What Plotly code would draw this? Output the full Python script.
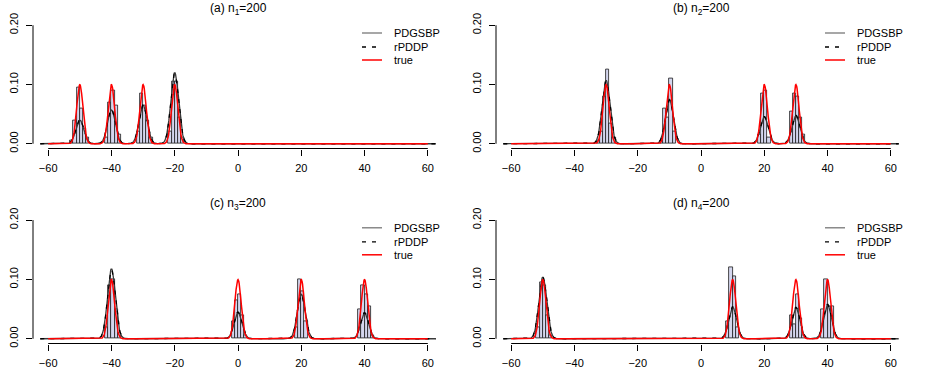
import numpy as np
import plotly.graph_objects as go

# ---------------- data ----------------
panel_titles = ["(a) n<sub>1</sub>=200", "(b) n<sub>2</sub>=200",
                "(c) n<sub>3</sub>=200", "(d) n<sub>4</sub>=200"]
x_tick_vals = [-60, -40, -20, 0, 20, 40, 60]
y_tick_vals = [0.0, 0.1, 0.2]
y_tick_text = ["0.00", "0.10", "0.20"]
legend_labels = ["PDGSBP", "rPDDP", "true"]

# histogram bins (left edge, width 1) and densities
hist_a_left = [-53, -52, -51, -50, -49, -48, -42, -41, -40, -39, -38,
               -32, -31, -30, -29, -28, -22, -21, -20, -19, -18]
hist_a_dens = [0.005, 0.04, 0.095, 0.06, 0.025, 0.01, 0.01, 0.07, 0.09, 0.065, 0.015,
               0.02, 0.085, 0.065, 0.04, 0.01, 0.02, 0.105, 0.105, 0.045, 0.01]
hist_b_left = [-33, -32, -31, -30, -29, -28, -13, -12, -11, -10, -9,
               18, 19, 20, 21, 28, 29, 30, 31, 32]
hist_b_dens = [0.005, 0.02, 0.08, 0.125, 0.035, 0.01, 0.005, 0.06, 0.045, 0.11, 0.02,
               0.015, 0.085, 0.09, 0.01, 0.055, 0.085, 0.08, 0.045, 0.015]
hist_c_left = [-42, -41, -40, -39, -38, -2, -1, 0, 1, 2,
               18, 19, 20, 21, 38, 39, 40, 41, 42]
hist_c_dens = [0.02, 0.09, 0.1, 0.05, 0.01, 0.03, 0.065, 0.075, 0.04, 0.005,
               0.02, 0.1, 0.08, 0.03, 0.05, 0.09, 0.075, 0.055, 0.005]
hist_d_left = [-52, -51, -50, -49, -48, 8, 9, 10, 11,
               28, 29, 30, 31, 32, 38, 39, 40, 41]
hist_d_dens = [0.02, 0.095, 0.09, 0.04, 0.005, 0.03, 0.12, 0.105, 0.02,
               0.04, 0.025, 0.075, 0.035, 0.005, 0.05, 0.1, 0.055, 0.055]

# true mixture components (equal weights, unit sd)
true_means_a = [-50, -40, -30, -20]
true_means_b = [-30, -10, 20, 30]
true_means_c = [-40, 0, 20, 40]
true_means_d = [-50, 10, 30, 40]
true_weight = 0.25
true_sd = 1.0

# fitted curves: component peak heights (means as true), common sd
pdgsbp_peaks_a = [0.040, 0.057, 0.065, 0.120]
pdgsbp_peaks_b = [0.107, 0.075, 0.045, 0.047]
pdgsbp_peaks_c = [0.118, 0.044, 0.075, 0.043]
pdgsbp_peaks_d = [0.104, 0.053, 0.052, 0.057]
rpddp_peaks_a = [0.041, 0.058, 0.066, 0.118]
rpddp_peaks_b = [0.105, 0.074, 0.046, 0.048]
rpddp_peaks_c = [0.116, 0.045, 0.074, 0.044]
rpddp_peaks_d = [0.103, 0.054, 0.053, 0.058]
fit_sd = 1.25

panels = [
    dict(title=panel_titles[0], hl=hist_a_left, hd=hist_a_dens, tm=true_means_a, pp=pdgsbp_peaks_a, rp=rpddp_peaks_a),
    dict(title=panel_titles[1], hl=hist_b_left, hd=hist_b_dens, tm=true_means_b, pp=pdgsbp_peaks_b, rp=rpddp_peaks_b),
    dict(title=panel_titles[2], hl=hist_c_left, hd=hist_c_dens, tm=true_means_c, pp=pdgsbp_peaks_c, rp=rpddp_peaks_c),
    dict(title=panel_titles[3], hl=hist_d_left, hd=hist_d_dens, tm=true_means_d, pp=pdgsbp_peaks_d, rp=rpddp_peaks_d),
]

# ---------------- layout geometry ----------------
W, H = 926, 390
FONT = "Liberation Sans, Arial, Helvetica, sans-serif"
xdom = [(33, 443), (496, 906), (33, 443), (496, 906)]
ydom = [(20.5, 148.5), (20.5, 148.5), (215.3, 343.5), (215.3, 343.5)]
title_y = [9, 9, 204, 204]

grid_fit = np.linspace(-62.5, 62.5, 1001)
grid_true = np.linspace(-60, 60, 1001)


def mix_true(x, means):
    out = np.zeros_like(x)
    for m in means:
        out += true_weight * np.exp(-0.5 * ((x - m) / true_sd) ** 2) / (true_sd * np.sqrt(2 * np.pi))
    return out


def mix_peak(x, means, peaks):
    out = np.zeros_like(x)
    for m, p in zip(means, peaks):
        out += p * np.exp(-0.5 * ((x - m) / fit_sd) ** 2)
    return out


DASH = "4px,6px"
fig = go.Figure()
shapes = []
annotations = []
layout_axes = {}

for i, p in enumerate(panels):
    k = "" if i == 0 else str(i + 1)
    xa, ya = "x" + k, "y" + k
    centers = [l + 0.5 for l in p["hl"]]
    fig.add_trace(go.Bar(x=centers, y=p["hd"], width=1.0, xaxis=xa, yaxis=ya,
                         marker=dict(color="#D4D6EE", line=dict(color="#1a1a1a", width=0.8)),
                         showlegend=False, hoverinfo="skip"))
    fig.add_trace(go.Scatter(x=grid_fit, y=mix_peak(grid_fit, p["tm"], p["pp"]), mode="lines",
                             line=dict(color="#3a3a3a", width=1.3), xaxis=xa, yaxis=ya,
                             showlegend=False, hoverinfo="skip"))
    fig.add_trace(go.Scatter(x=grid_fit, y=mix_peak(grid_fit, p["tm"], p["rp"]), mode="lines",
                             line=dict(color="black", width=1.3, dash=DASH), xaxis=xa, yaxis=ya,
                             showlegend=False, hoverinfo="skip"))
    fig.add_trace(go.Scatter(x=grid_true, y=mix_true(grid_true, p["tm"]), mode="lines",
                             line=dict(color="#FF0000", width=1.5), xaxis=xa, yaxis=ya,
                             showlegend=False, hoverinfo="skip"))

    x0, x1 = xdom[i]
    yt, yb = ydom[i]
    xname = "xaxis" + k
    yname = "yaxis" + k
    layout_axes[xname] = dict(domain=[x0 / W, x1 / W], range=[-64.8, 64.8], anchor=ya,
                              automargin=False, showgrid=False, zeroline=False, showline=False,
                              ticks="outside", ticklen=6, tickwidth=1, tickcolor="black",
                              tickvals=x_tick_vals, ticklabelstandoff=3,
                              tickfont=dict(family=FONT, size=11, color="black"))
    layout_axes[yname] = dict(domain=[1 - yb / H, 1 - yt / H], range=[-0.008, 0.208], anchor=xa,
                              automargin=False, showgrid=False, zeroline=False, showline=False,
                              ticks="outside", ticklen=6, tickwidth=1, tickcolor="black",
                              tickvals=y_tick_vals, ticktext=y_tick_text, tickangle=-90,
                              ticklabelstandoff=4,
                              tickfont=dict(family=FONT, size=11, color="black"))
    # R-style axis lines spanning first to last tick
    shapes.append(dict(type="line", xref=xa, yref=ya + " domain", x0=-60, x1=60, y0=0, y1=0,
                       line=dict(color="black", width=1)))
    shapes.append(dict(type="line", xref=xa + " domain", yref=ya, x0=0, x1=0, y0=0, y1=0.2,
                       line=dict(color="black", width=1)))
    # title
    annotations.append(dict(text=p["title"], x=(x0 + x1) / 2 / W, y=1 - title_y[i] / H,
                            xref="paper", yref="paper", xanchor="center", yanchor="middle",
                            showarrow=False, font=dict(family=FONT, size=12, color="black")))
    # legend
    lx0 = x0 + 329
    ly = [yt + 12.5, yt + 26.5, yt + 39.5]
    styles = [dict(color="#777777", width=1.3), dict(color="black", width=1.3, dash=DASH),
              dict(color="#FF0000", width=1.5)]
    for j in range(3):
        shapes.append(dict(type="line", xref="paper", yref="paper",
                           x0=lx0 / W, x1=(lx0 + 20) / W, y0=1 - ly[j] / H, y1=1 - ly[j] / H,
                           line=styles[j]))
        annotations.append(dict(text=legend_labels[j], x=(lx0 + 30) / W, y=1 - ly[j] / H,
                                xref="paper", yref="paper", xanchor="left", yanchor="middle",
                                showarrow=False, font=dict(family=FONT, size=11, color="black")))

fig.update_layout(template="none", width=W, height=H,
                  margin=dict(l=0, r=0, t=0, b=0, pad=0, autoexpand=False),
                  paper_bgcolor="white", plot_bgcolor="white", showlegend=False,
                  bargap=0, shapes=shapes, annotations=annotations, **layout_axes)

fig.write_html("out.html", config={"displayModeBar": False},
               post_script="document.body.style.margin='0px';")
